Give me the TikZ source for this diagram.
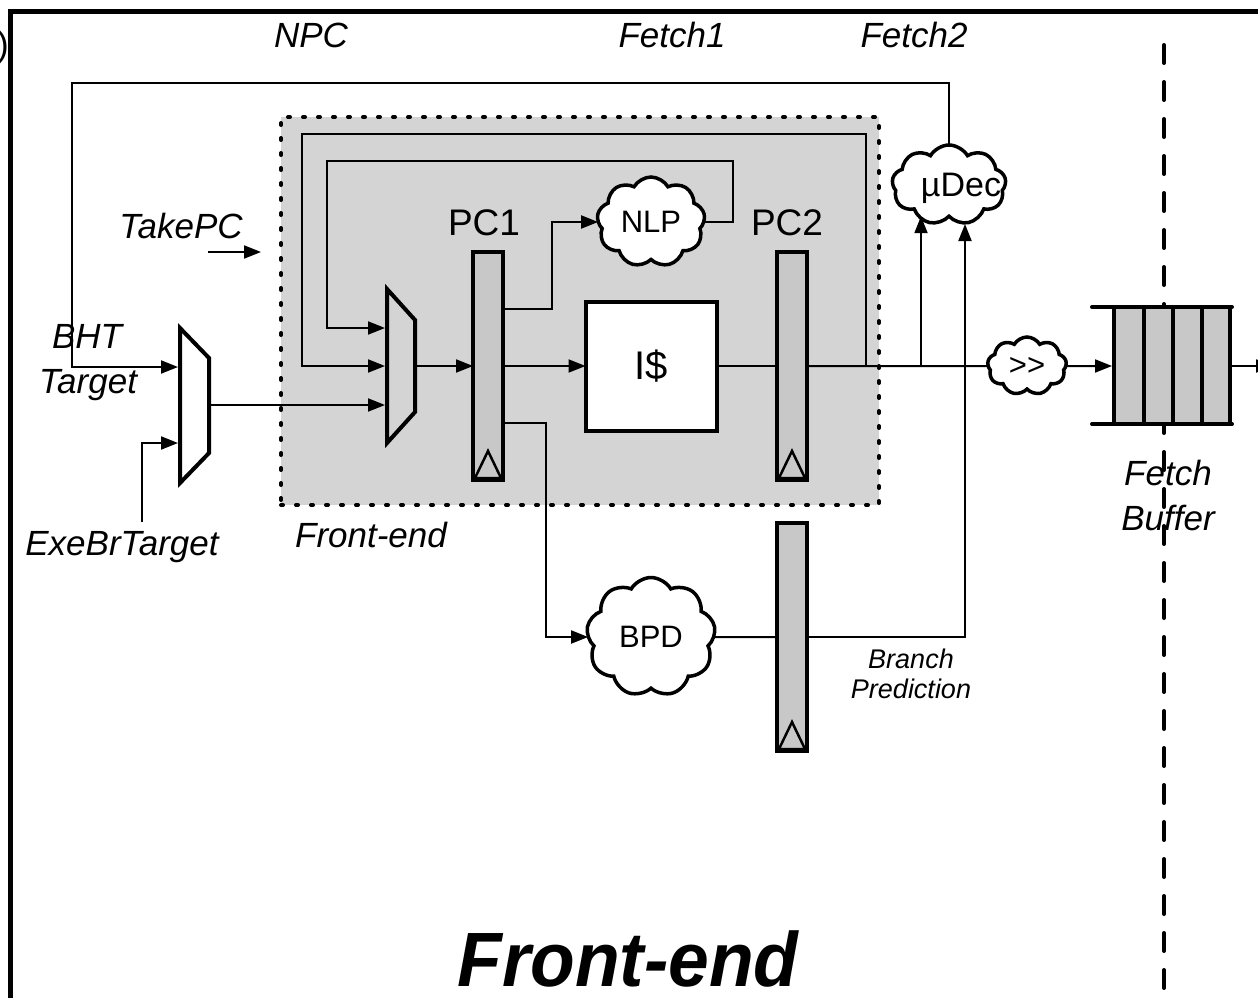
\documentclass[tikz,border=0pt]{standalone}
\usepackage{fontspec}
\setmainfont{Liberation Sans}
\usetikzlibrary{arrows.meta,shapes.symbols,calc}
\definecolor{boxgray}{HTML}{D4D4D4}
\definecolor{reggray}{HTML}{C8C8C8}
\begin{document}
\begin{tikzpicture}[x=1pt,y=-1pt,
  wire/.style={line width=2pt},
  >={Triangle[length=17pt,width=13pt]},
  reg/.style={draw, line width=4pt, fill=reggray, minimum width=30pt, minimum height=228pt, inner sep=0pt, outer sep=0pt},
  cld/.style={cloud, cloud puffs=9, cloud puff arc=120, cloud ignores aspect, draw, line width=3.5pt, fill=white, inner sep=0pt, outer sep=0pt},
  lbl/.style={font=\fontsize{35}{40}\selectfont\itshape, inner sep=0pt},
  blk/.style={font=\fontsize{37}{42}\selectfont, inner sep=0pt},
  thk/.style={line width=4pt},
  clk/.style={line width=2.5pt, fill=reggray}
]
\useasboundingbox (0,0) rectangle (1258,997);

% frame
\draw[line width=5pt] (10.5,1005) -- (10.5,11.5) -- (1270,11.5);
\node[anchor=base east, font=\fontsize{35}{40}\selectfont, inner sep=0pt] (paren) at (9,56) {)};

% stage labels
\node[lbl, anchor=base] (npc) at (311,47) {NPC};
\node[lbl, anchor=base] (f1) at (672,47) {Fetch1};
\node[lbl, anchor=base] (f2) at (914,47) {Fetch2};

% pipeline boundary
\draw[line width=4pt, line cap=round, dash pattern=on 18pt off 19pt] (1164,45) -- (1164,1010);

% front-end box
\node[draw, fill=boxgray, line width=4pt, line cap=round, dash pattern=on 2pt off 13pt,
      minimum width=598pt, minimum height=388pt, inner sep=0pt, outer sep=0pt] (febox) at (580,311) {};
\node[lbl, anchor=base] (fetxt) at (371,547) {Front-end};

% registers
\node[reg] (pc1) at (488,366) {};
\node[reg] (pc2) at (792,366) {};
\node[reg] (pc3) at (792,637) {};
\foreach \r in {pc1,pc2,pc3}
  \draw[clk] ([xshift=-13pt,yshift=2pt]\r.south) -- ([yshift=29pt]\r.south) -- ([xshift=13pt,yshift=2pt]\r.south) -- cycle;
\node[blk, anchor=base] (pc1t) at (484,235) {PC1};
\node[blk, anchor=base] (pc2t) at (787,235) {PC2};

% I$
\node[draw, thk, fill=white, minimum width=131pt, minimum height=129pt, inner sep=0pt, outer sep=0pt,
      font=\fontsize{40}{44}\selectfont] (icache) at (651,366) {I\$};

% clouds
\node[cld, minimum width=108pt, minimum height=90pt, font=\fontsize{31}{35}\selectfont] (nlp) at (651,222) {NLP};
\node[cld, minimum width=114pt, minimum height=80pt] (udec) at (949,185) {};
\node[inner sep=0pt, font=\fontsize{34}{38}\selectfont] (udect) at (961,188) {µDec};
\node[cld, minimum width=79pt, minimum height=58pt, font=\fontsize{31}{34}\selectfont] (gt) at (1027,366) {>\kern0pt>};
\node[cld, minimum width=129pt, minimum height=119pt, font=\fontsize{31}{35}\selectfont] (bpd) at (651,637) {BPD};

% muxes
\draw[thk, fill=white] (180,328) -- (209,358) -- (209,453) -- (180,483) -- cycle;
\draw[thk] (387,289) -- (415,320) -- (415,412) -- (387,443) -- cycle;
\coordinate (m1in1) at (178,367);
\coordinate (m1in2) at (178,443);
\coordinate (m1out) at (211,405);
\coordinate (m2in1) at (385,328);
\coordinate (m2in2) at (385,366);
\coordinate (m2in3) at (385,405);
\coordinate (m2out) at (417,366);

% fetch buffer
\node[fill=reggray, minimum width=116pt, minimum height=117pt, inner sep=0pt, outer sep=0pt] (fb) at (1172,365.5) {};
\draw[thk, line cap=round] (1092,307) -- (1232,307);
\draw[thk, line cap=round] (1092,424) -- (1232,424);
\foreach \x in {1114,1144,1173,1202,1230} \draw[thk] (\x,307) -- (\x,424);
\coordinate (fbin) at (1112,366);
\coordinate (fbout) at (1232,366);
\coordinate (fbnext) at (1273,366);
\node[lbl, anchor=base] (fbt1) at (1168,485) {Fetch};
\node[lbl, anchor=base] (fbt2) at (1168,530) {Buffer};

% side labels
\node[lbl, anchor=base] (bht) at (87,348) {BHT};
\node[lbl, anchor=base] (tgt) at (88,393) {Target};
\node[lbl, anchor=base] (exe) at (122,555) {ExeBrTarget};
\node[lbl, anchor=base] (take) at (181,238) {TakePC};
\node[font=\fontsize{27}{30}\selectfont\itshape, inner sep=0pt, anchor=base] (bp1) at (911,668) {Branch};
\node[font=\fontsize{27}{30}\selectfont\itshape, inner sep=0pt, anchor=base] (bp2) at (911,698) {Prediction};

% coordinates for routing
\coordinate (npcc) at (72,83);
\coordinate (exeb) at (142,522);
\coordinate (tpa) at (208,252);
\coordinate (tpb) at (261,252);
\coordinate (loopA) at (866,366);
\coordinate (loopB) at (302,134);
\coordinate (nl1) at (733,161);
\coordinate (nl2) at (327,161);
\coordinate (p1a) at (503,309);
\coordinate (p1b) at (552,309);
\coordinate (p1c) at (503,423);
\coordinate (p1d) at (546,423);
\coordinate (j1) at (921,366);
\coordinate (bpup) at (965,224);

% connectors
\draw[wire,->] (udec.north) |- (npcc) |- (m1in1);
\draw[wire,->] (exeb) |- (m1in2);
\draw[wire,->] (m1out) -- (m2in3);
\draw[wire,->] (tpa) -- (tpb);
\draw[wire,->] (loopA) |- (loopB) |- (m2in2);
\draw[wire,->] (nlp.east) -| (nl1) -- (nl2) |- (m2in1);
\draw[wire,->] (m2out) -- (pc1.west);
\draw[wire,->] (p1a) -- (p1b) |- (nlp.west);
\draw[wire,->] (pc1.east) -- (icache.west);
\draw[wire,->] (p1c) -- (p1d) |- (bpd.west);
\draw[wire] (icache.east) -- (pc2.west);
\draw[wire] (pc2.east) -- (gt.west);
\draw[wire,->] (j1) -- (j1 |- udec.south);
\draw[wire,->] (gt.east) -- (fbin);
\draw[wire,->] (fbout) -- (fbnext);
\draw[wire] (bpd.east) -- (pc3.west);
\draw[wire,->] (pc3.east) -| (bpup);

% title
\node[font=\fontsize{77}{80}\selectfont\bfseries\itshape, inner sep=0pt, anchor=base, xscale=0.95] (title) at (628,986) {Front-end};
\end{tikzpicture}
\end{document}
